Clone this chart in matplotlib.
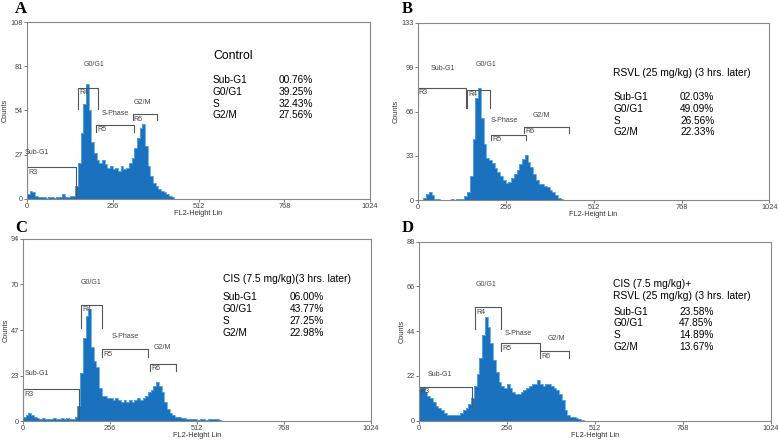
import numpy as np
import matplotlib
matplotlib.use("Agg")
import matplotlib.pyplot as plt

plt.rcParams['font.family'] = ['Liberation Sans', 'DejaVu Sans']

# histogram counts, one value per 8-channel bin starting at channel 0
BIN = 8
counts_a = [3, 5, 4, 2, 1, 1, 1, 0.5, 1, 1, 0.5, 1, 1, 3, 1, 1, 1.5, 2, 8, 22,
            40, 58, 70, 54, 35, 28, 24, 22, 24, 21, 19, 20, 18, 19, 17, 20, 18, 19, 22, 25,
            31, 37, 43, 46, 32, 20, 14, 10, 8, 6, 5, 4, 3, 2, 1, 0]
counts_b = [0, 0, 2, 5, 6, 4, 1, 1, 0.5, 0.5, 0.5, 0.5, 1, 0.5, 1, 1, 1, 3, 6, 18,
            46, 77, 84, 62, 42, 32, 30, 28, 24, 21, 18, 15, 13, 14, 17, 20, 23, 27, 31, 34,
            29, 25, 20, 15, 12, 12, 11, 10, 8, 6, 4, 2, 1, 0.5, 0.5, 0]
counts_c = [2, 3, 4, 3, 2, 1.5, 1, 1.5, 1, 1, 1, 1.5, 1, 1, 1.5, 1, 1.5, 1, 1, 2,
            8, 25, 43, 54, 58, 38, 31, 28, 17, 13, 13, 12, 12, 11, 12, 11, 10, 11, 10, 11,
            10, 11, 12, 11, 12, 13, 15, 16, 18, 20, 18, 15, 10, 6, 4, 3, 2, 2, 1.5, 1.5,
            1, 1, 1, 1, 0.5, 1, 1, 0.5, 1, 1, 1, 1, 0.5, 0]
counts_d = [16, 16, 14, 12, 11, 9, 7, 6, 5, 4, 3, 3, 3, 3, 3, 4, 5, 6, 8, 11,
            17, 23, 31, 42, 51, 46, 38, 30, 24, 19, 17, 16, 18, 16, 14, 13, 13, 14, 15, 16,
            17, 18, 18, 20, 18, 17, 18, 18, 17, 16, 15, 13, 10, 5, 3, 2, 2, 1.5, 1, 0.5, 0]

ymax = {'A': 108, 'B': 133, 'C': 94, 'D': 88}

# gates: (name, x0, x1, y_top, y_drop, phase label, label x, label y)
gates_a = [('R3', 0, 147, 19.3, 0, 'Sub-G1', 30, 26),
           ('R4', 152, 212, 68, 55, 'G0/G1', 199, 80),
           ('R5', 206, 318, 45, 40.6, 'S-Phase', 262, 50),
           ('R6', 315, 388, 51.7, 48, 'G2/M', 345, 57)]
gates_b = [('R3', 0, 141, 84, 69, 'Sub-G1', 73, 96),
           ('R4', 144, 209, 83, 69, 'G0/G1', 200, 99),
           ('R5', 214, 316, 49, 45, 'S-Phase', 252, 57),
           ('R6', 309, 439, 55, 50.5, 'G2/M', 359, 61)]
gates_c = [('R3', 0, 164, 16.4, 0, 'Sub-G1', 40, 23),
           ('R4', 172, 232, 60, 48, 'G0/G1', 200, 69.5),
           ('R5', 233, 368, 37, 33, 'S-Phase', 300, 42),
           ('R6', 375, 449, 29.5, 26, 'G2/M', 410, 36)]
gates_d = [('R3', 0, 155, 16.7, 6, 'Sub-G1', 60, 21),
           ('R4', 163, 240, 55.7, 45, 'G0/G1', 195, 65),
           ('R5', 240, 352, 38, 34, 'S-Phase', 290, 41),
           ('R6', 352, 436, 34, 30.6, 'G2/M', 400, 38.4)]

phases = ['Sub-G1', 'G0/G1', 'S', 'G2/M']
pct_a = ['00.76%', '39.25%', '32.43%', '27.56%']
pct_b = ['02.03%', '49.09%', '26.56%', '22.33%']
pct_c = ['06.00%', '43.77%', '27.25%', '22.98%']
pct_d = ['23.58%', '47.85%', '14.89%', '13.67%']
titles = {'A': ['Control'],
          'B': ['RSVL (25 mg/kg) (3 hrs. later)'],
          'C': ['CIS (7.5 mg/kg)(3 hrs. later)'],
          'D': ['CIS (7.5 mg/kg)+', 'RSVL (25 mg/kg) (3 hrs. later)']}
title_size = {'A': 8.8, 'B': 7.4, 'C': 7.4, 'D': 7.4}

# layout: axes rect, text x, pct x, title y, first row y, letter position
panels = [
    ('A', counts_a, gates_a, pct_a, [0.0347, 0.548, 0.441, 0.402], 0.542, 0.733, 0.81, 0.67, (15, 9)),
    ('B', counts_b, gates_b, pct_b, [0.537, 0.545, 0.452, 0.403], 0.556, 0.746, 0.72, 0.58, (402, 9)),
    ('C', counts_c, gates_c, pct_c, [0.0296, 0.043, 0.447, 0.414], 0.575, 0.767, 0.78, 0.68, (15, 228)),
    ('D', counts_d, gates_d, pct_d, [0.5386, 0.044, 0.452, 0.407], 0.552, 0.74, 0.763, 0.609, (402, 228)),
]

fig = plt.figure(figsize=(7.78, 4.40), dpi=100)

for key, counts, gates, pct, rect, tx, px, ty, ry, (lx, ly) in panels:
    ax = fig.add_axes(rect)
    counts = np.array(counts, dtype=float)
    edges = np.arange(len(counts) + 1) * BIN
    ax.stairs(counts, edges, fill=True, color='#1a72bf', lw=0)
    ax.stairs(counts, edges, color='#5aaae6', lw=0.6)

    for name, x0, x1, yt, yd, lab, lbx, lby in gates:
        ax.plot([x0, x0, x1, x1], [yd, yt, yt, yd], color='#555555', lw=0.8)
        ax.text(x0 + 3, yt - 0.8, name, fontsize=5, color='#444444', va='top', ha='left')
        ax.text(lbx, lby, lab, fontsize=5, color='#444444', va='bottom', ha='center')

    ax.set_xlim(0, 1024)
    ax.set_ylim(0, ymax[key])
    ax.set_xticks([0, 256, 512, 768, 1024])
    yt_vals = np.linspace(0, ymax[key], 5)
    ax.set_yticks(yt_vals)
    ax.set_yticklabels([str(int(v)) for v in yt_vals])
    ax.tick_params(labelsize=5.3, length=2, width=0.5, colors='#444444', pad=1)
    for s in ax.spines.values():
        s.set_color('#888888')
        s.set_linewidth(0.8)
    ax.set_xlabel('FL2-Height Lin', fontsize=5.3, labelpad=0, color='#333333')
    ax.set_ylabel('Counts', fontsize=5.3, labelpad=1, color='#333333')

    step = 0.066
    yy = ty
    for line in titles[key]:
        ax.text(tx, yy, line, transform=ax.transAxes, fontsize=title_size[key], va='center')
        yy -= step
    for i, ph in enumerate(phases):
        ax.text(tx, ry - i * step, ph, transform=ax.transAxes, fontsize=7.3, va='center')
        ax.text(px, ry - i * step, pct[i], transform=ax.transAxes, fontsize=7.3, va='center')

    fig.text(lx / 778, 1 - ly / 440, key, fontsize=12, fontweight='bold',
             family='Liberation Serif', va='center', ha='left')

fig.savefig('out.png', dpi=100)
